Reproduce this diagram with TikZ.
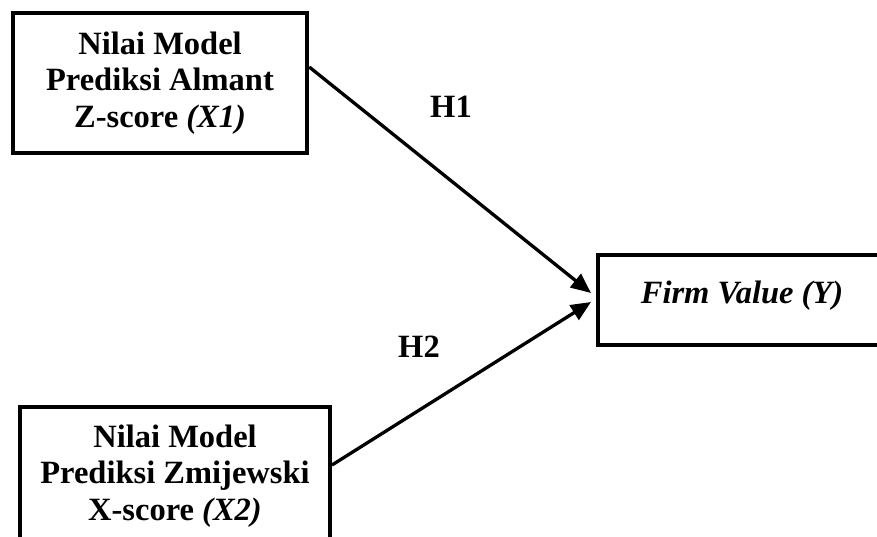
\documentclass[tikz,border=0pt]{standalone}
\usepackage{fontspec}
\setmainfont{Liberation Serif}
\usetikzlibrary{arrows.meta}
\begin{document}
\begin{tikzpicture}[x=1pt,y=-1pt,
  box/.style={draw, line width=4pt, align=center, font=\fontsize{32.5}{36.5}\selectfont\bfseries, inner sep=0pt},
  link/.style={line width=3.3pt, -{Triangle[length=20pt,width=17pt]}},
  hyp/.style={font=\fontsize{32.5}{36}\selectfont\bfseries, inner sep=0pt}]
\useasboundingbox (0,0) rectangle (877,536);
\clip (0,0) rectangle (877,536);
\node[box, minimum width=294.5pt, minimum height=140pt] (b1) at (160,83)
  {Nilai Model\\Prediksi Almant\\Z-score \textit{(X1)}};
\node[box, minimum width=310pt, minimum height=138pt] (b2) at (175,476)
  {Nilai Model\\Prediksi Zmijewski\\X-score \textit{(X2)}};
\node[box, minimum width=288pt, minimum height=90pt, text height=22pt, text depth=16pt] (fv) at (742,300)
  {\textit{Firm Value (Y)}};
\draw[link] ([yshift=16pt]b1.east) -- ([xshift=-5pt,yshift=7pt]fv.west);
\draw[link] ([yshift=11pt]b2.east) -- ([xshift=-5pt,yshift=-2pt]fv.west);
\node[hyp] (h1) at (451,107) {H1};
\node[hyp] (h2) at (419,347) {H2};
\end{tikzpicture}
\end{document}
